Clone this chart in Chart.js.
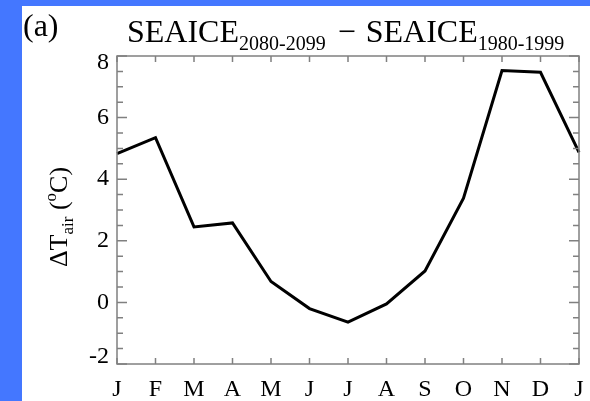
<!DOCTYPE html>
<html>
<head>
<meta charset="utf-8">
<script src="https://cdn.jsdelivr.net/npm/chart.js@4/dist/chart.umd.min.js"></script>
<style>
  html, body { margin: 0; padding: 0; background: #4477ff; width: 590px; height: 401px; overflow: hidden; }
  #box { position: absolute; left: 22px; top: 6px; width: 568px; height: 395px; background: #fff; }
</style>
</head>
<body>
<div id="box"><canvas id="mycanvas" width="568" height="395"></canvas></div>
<script>
// monthly change in surface air temperature, SEAICE 2080-2099 minus 1980-1999
var months = ['J','F','M','A','M','J','J','A','S','O','N','D','J'];
var dTair = [4.83, 5.35, 2.45, 2.58, 0.68, -0.2, -0.64, -0.05, 1.02, 3.38, 7.53, 7.47, 4.87];
var yTicks = [-2, 0, 2, 4, 6, 8];

var serif = '"Liberation Serif", "Times New Roman", serif';

var decor = {
    id: 'decor',
    afterDraw: function(chart){
        var ctx = chart.ctx;
        var a = chart.chartArea;
        var xs = chart.scales.x, ys = chart.scales.y;
        ctx.save();

        // frame and inward ticks
        ctx.strokeStyle = '#808080';
        ctx.lineWidth = 1.5;
        ctx.strokeRect(a.left, a.top, a.right - a.left, a.bottom - a.top);
        ctx.beginPath();
        for(var v = -2; v <= 8; v += 0.5){
            var py = ys.getPixelForValue(v);
            var len = (v % 2 === 0) ? 10 : 6;
            ctx.moveTo(a.left, py); ctx.lineTo(a.left + len, py);
            ctx.moveTo(a.right, py); ctx.lineTo(a.right - len, py);
        }
        for(var i = 0; i < months.length; i++){
            var px = xs.getPixelForValue(i);
            ctx.moveTo(px, a.bottom); ctx.lineTo(px, a.bottom - 6);
            ctx.moveTo(px, a.top); ctx.lineTo(px, a.top + 6);
        }
        ctx.stroke();

        // tick labels
        ctx.fillStyle = '#000';
        ctx.font = '24px ' + serif;
        ctx.textAlign = 'right';
        ctx.textBaseline = 'middle';
        yTicks.forEach(function(t){
            var py = ys.getPixelForValue(t);
            py = Math.max(a.top + 7, Math.min(a.bottom - 7, py));
            ctx.fillText(String(t), a.left - 8, py);
        });
        ctx.textAlign = 'center';
        ctx.textBaseline = 'alphabetic';
        months.forEach(function(m, i){
            ctx.fillText(m, xs.getPixelForValue(i), 390);
        });

        // panel label
        ctx.textAlign = 'left';
        ctx.font = '32px ' + serif;
        ctx.fillText('(a)', 1, 30);

        // title with subscripts: [text, size, baseline shift, gap after]
        var parts = [
            ['SEAICE', 32, 0, 0], ['2080-2099', 20, 8, 12], ['\u2212', 32, 0, 10],
            ['SEAICE', 32, 0, 0], ['1980-1999', 20, 8, 0]
        ];
        var x = 105;
        parts.forEach(function(p){
            ctx.font = p[1] + 'px ' + serif;
            ctx.fillText(p[0], x, 36 + p[2]);
            x += ctx.measureText(p[0]).width + p[3];
        });

        // y axis title, rotated
        var yparts = [
            ['\u0394T', 26, 0], ['air', 17, 6], [' (', 26, 0], ['o', 17, -11], ['C)', 26, 0]
        ];
        var total = 0;
        yparts.forEach(function(p){
            ctx.font = p[1] + 'px ' + serif;
            total += ctx.measureText(p[0]).width;
        });
        ctx.translate(45, 211);
        ctx.rotate(-Math.PI / 2);
        var tx = -total / 2;
        yparts.forEach(function(p){
            ctx.font = p[1] + 'px ' + serif;
            ctx.fillText(p[0], tx, p[2]);
            tx += ctx.measureText(p[0]).width;
        });
        ctx.restore();
    }
};

var ctx = document.getElementById('mycanvas');
var lineGraph = new Chart(ctx, {
    type: 'line',
    data: {
        labels: months,
        datasets: [{
            data: dTair,
            borderColor: '#000',
            borderWidth: 3,
            borderJoinStyle: 'miter',
            pointRadius: 0,
            tension: 0,
            fill: false,
            clip: false
        }]
    },
    options: {
        responsive: false,
        animation: false,
        layout: { padding: { left: 95, top: 50, right: 11, bottom: 37 } },
        plugins: { legend: { display: false }, tooltip: { enabled: false }, title: { display: false } },
        scales: {
            x: { type: 'category', display: false, offset: false },
            y: { type: 'linear', display: false, min: -2, max: 8 }
        }
    },
    plugins: [decor]
});
</script>
</body>
</html>
